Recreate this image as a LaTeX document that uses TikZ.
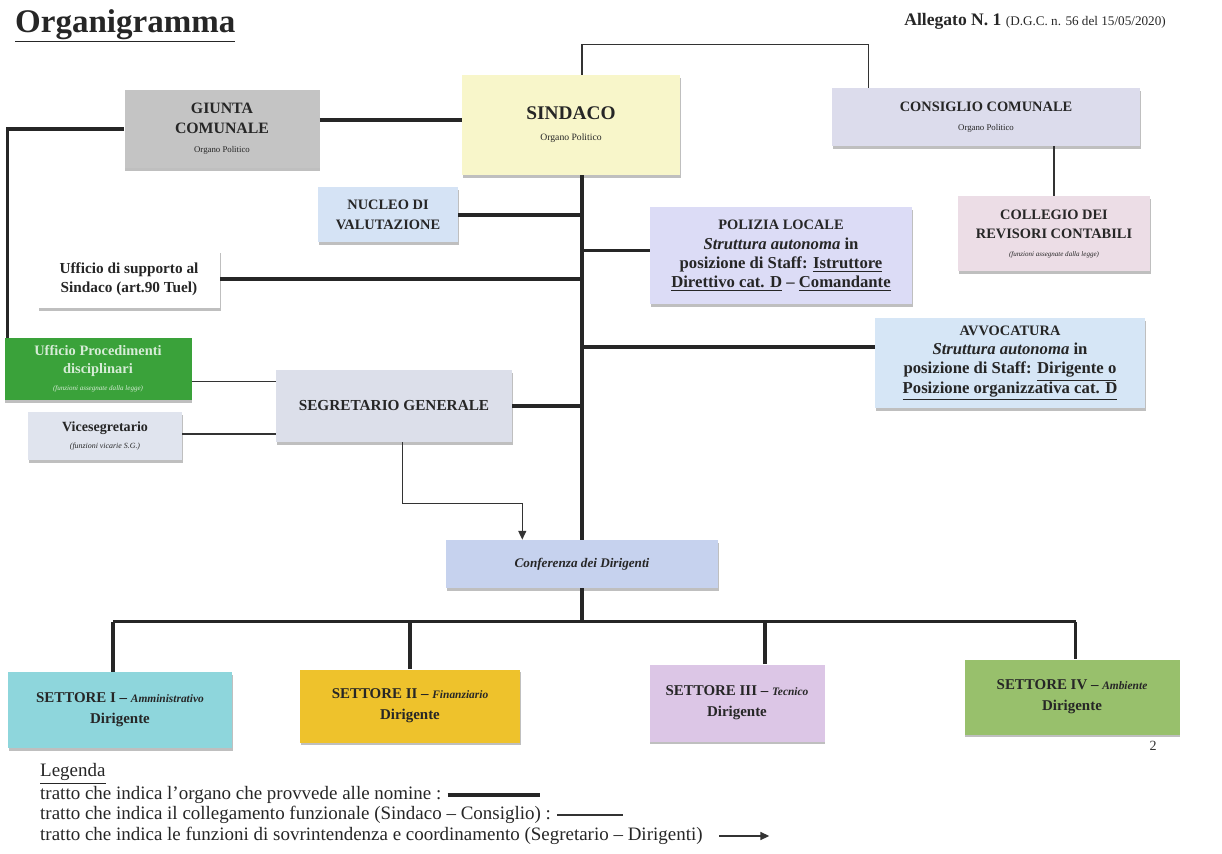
\documentclass[tikz,border=0pt]{standalone}
\usepackage{fontspec}
\setmainfont{Liberation Serif}
\usepackage{xcolor}
\usepackage{tikz}
\usetikzlibrary{shadows, arrows.meta}

\definecolor{giuntacol}{HTML}{C4C4C4}
\definecolor{sindacocol}{HTML}{F8F6CA}
\definecolor{consigliocol}{HTML}{DCDCEC}
\definecolor{collegiocol}{HTML}{ECDDE6}
\definecolor{nucleocol}{HTML}{D5E3F5}
\definecolor{poliziacol}{HTML}{DCDCF6}
\definecolor{avvocol}{HTML}{D6E6F6}
\definecolor{updcol}{HTML}{3AA23A}
\definecolor{vicecol}{HTML}{E0E4EE}
\definecolor{segrcol}{HTML}{DCDFEA}
\definecolor{confcol}{HTML}{C6D2EE}
\definecolor{setIcol}{HTML}{8ED6DC}
\definecolor{setIIcol}{HTML}{EEC22C}
\definecolor{setIIIcol}{HTML}{DCC6E6}
\definecolor{setIVcol}{HTML}{98C06C}

\newcommand{\sz}[2]{\fontsize{#1}{#2}\selectfont}

\begin{document}
\begin{tikzpicture}[x = 0.02cm, y = -0.02cm,
		organo/.style = {fill = #1, align = center, inner sep = 0pt, text = black!85,
			drop shadow = {shadow xshift = 0.5pt, shadow yshift = -1.6pt, fill = black!50}},
		wh/.style 2 args = {minimum width = #1*0.02cm, minimum height = #2*0.02cm},
		nomina/.style = {line width = 2pt, black!85},
		collega/.style = {line width = 0.8pt, black!80},
		punta/.style = {-{Triangle[length = 5pt, width = 4.5pt]}}]
			
			\useasboundingbox (0,0) rectangle (1222,854);
			
			\node [anchor = west, text = black!85, font = \bfseries\sz{18.8}{20}] (titolo) at (9,26) {\underline{Organigramma}};
			\node [anchor = east, text = black!85, font = \sz{10}{12}] (allegato) at (1172,21) {\textbf{Allegato N. 1} {\sz{7.5}{9}(D.G.C. n. 56 del 15/05/2020)}};
			
			% organi politici
			\node [organo = giuntacol, wh = {195}{78}, font = \bfseries\sz{9}{11}] (giunta) at (222,129) {GIUNTA\\COMUNALE\\{\sz{5}{6}\mdseries Organo Politico}};
			\node [organo = sindacocol, wh = {218}{100}, font = \bfseries\sz{11}{12}] (sindaco) at (571,125) {SINDACO\\{\sz{5.5}{7}\mdseries Organo Politico}};
			\node [organo = consigliocol, wh = {308}{58}, font = \bfseries\sz{8.2}{11}] (consiglio) at (986,117) {CONSIGLIO COMUNALE\\{\sz{5}{6}\mdseries Organo Politico}};
			\node [organo = collegiocol, wh = {192}{75}, font = \bfseries\sz{8.2}{10.5}] (collegio) at (1054,234) {COLLEGIO DEI\\REVISORI CONTABILI\\{\sz{4}{5}\mdseries\itshape (funzioni assegnate dalla legge)}};
			
			% staff
			\node [organo = nucleocol, wh = {140}{55}, font = \bfseries\sz{8.2}{11}] (nucleo) at (388,215) {NUCLEO DI\\VALUTAZIONE};
			\node [organo = poliziacol, wh = {262}{97}, font = \bfseries\sz{9.5}{11}] (polizia) at (781,256) {{\sz{8.2}{10}POLIZIA LOCALE}\\\textit{Struttura autonoma} in\\posizione di Staff: \underline{Istruttore}\\\underline{Direttivo cat. D} -- \underline{Comandante}};
			\node [organo = white, wh = {182}{58}, font = \bfseries\sz{8.7}{11}] (supporto) at (129,279) {Ufficio di supporto al\\Sindaco (art.90 Tuel)};
			\node [organo = avvocol, wh = {270}{90}, font = \bfseries\sz{9.5}{11}] (avvocatura) at (1010,363) {{\sz{8.2}{10}AVVOCATURA}\\\textit{Struttura autonoma} in\\posizione di Staff: \underline{Dirigente o}\\\underline{Posizione organizzativa cat. D}};
			
			% segreteria
			\node [organo = updcol, wh = {187}{62}, font = \bfseries\sz{8.2}{10}, text = white!80!updcol] (upd) at (98,369) {Ufficio Procedimenti\\disciplinari\\{\sz{4}{5}\mdseries\itshape (funzioni assegnate dalla legge)}};
			\node [organo = vicecol, wh = {154}{48}, font = \bfseries\sz{8}{10}] (vice) at (105,436) {Vicesegretario\\{\sz{4.5}{5}\mdseries\itshape (funzioni vicarie S.G.)}};
			\node [organo = segrcol, wh = {236}{72}, font = \bfseries\sz{8.7}{11}] (segretario) at (394,406) {SEGRETARIO GENERALE};
			\node [organo = confcol, wh = {272}{48}, font = \bfseries\itshape\sz{7.5}{9}] (conferenza) at (582,564) {Conferenza dei Dirigenti};
			
			% settori
			\node [organo = setIcol, wh = {224}{76}, font = \bfseries\sz{8.5}{12}] (set1) at (120,710) {SETTORE I -- {\sz{6.5}{8}\itshape Amministrativo}\\Dirigente};
			\node [organo = setIIcol, wh = {220}{73}, font = \bfseries\sz{8.5}{12}] (set2) at (410,706) {SETTORE II -- {\sz{6.5}{8}\itshape Finanziario}\\Dirigente};
			\node [organo = setIIIcol, wh = {175}{77}, font = \bfseries\sz{8.5}{12}] (set3) at (737,703) {SETTORE III -- {\sz{6.5}{8}\itshape Tecnico}\\Dirigente};
			\node [organo = setIVcol, wh = {215}{75}, font = \bfseries\sz{8.5}{12}] (set4) at (1072,697) {SETTORE IV -- {\sz{6.5}{8}\itshape Ambiente}\\Dirigente};
			
			\node [text = black!80, font = \sz{8}{9}] (pagina) at (1153,746) {2};
			
			% collegamenti
			\draw [nomina] (sindaco.south -| conferenza.north) -- (conferenza.north);
			
			\coordinate (g1) at ([yshift = 5pt]giunta.east);
			\draw [nomina] (g1) -- (g1 -| sindaco.west);
			\draw [nomina] (giunta.west) -| ([xshift = 2pt]upd.north west);
			
			\draw [collega] (sindaco.north -| conferenza.north) -- ++(0,-30) -| ([xshift = -67pt]consiglio.north);
			\draw [collega] (consiglio.south -| collegio.north) -- (collegio.north);
			
			\draw [nomina] (nucleo.east) -- (nucleo.east -| conferenza.north);
			\coordinate (pl) at ([yshift = 3pt]polizia.west);
			\draw [nomina] (pl) -- (pl -| conferenza.north);
			\draw [nomina] (supporto.east) -- (supporto.east -| conferenza.north);
			\coordinate (av) at ([yshift = 9pt]avvocatura.west);
			\draw [nomina] (av) -- (av -| conferenza.north);
			\draw [nomina] (segretario.east) -- (segretario.east -| conferenza.north);
			
			\coordinate (sg) at ([yshift = 14pt]segretario.west);
			\draw [collega] (sg) -- (sg -| upd.east);
			\coordinate (vs) at ([yshift = -16pt]segretario.west);
			\draw [collega] (vs) -- (vs -| vice.east);
			
			\draw [collega, punta] ([xshift = 5pt]segretario.south) -- ++(0,61) -| ([xshift = -34pt]conferenza.north);
			
			\coordinate (sb) at ([yshift = -19pt]conferenza.south);
			\draw [nomina] (conferenza.south) -- (sb);
			\foreach \s/\d in {set1/-4pt, set2/0pt, set3/16pt, set4/2pt} {
				\coordinate (c\s) at ([xshift = \d]\s.north);
				\draw [nomina] (c\s) -- (c\s |- sb);
			}
			\draw [nomina] (cset1 |- sb) -- (cset4 |- sb);
			
			% legenda
			\node [anchor = west, text = black!85, font = \sz{10.8}{12}] (legenda) at (34,774) {\underline{Legenda}};
			\node [anchor = west, text = black!85, font = \sz{10.8}{12}] (leg1) at (34,795) {tratto che indica l'organo che provvede alle nomine :};
			\node [anchor = west, text = black!85, font = \sz{10.8}{12}] (leg2) at (34,815) {tratto che indica il collegamento funzionale (Sindaco -- Consiglio) :};
			\node [anchor = west, text = black!85, font = \sz{10.8}{12}] (leg3) at (34,836) {tratto che indica le funzioni di sovrintendenza e coordinamento (Segretario -- Dirigenti)};
			
			\draw [nomina] (leg1.east) -- ++(92,0);
			\draw [collega] (leg2.east) -- ++(66,0);
			\draw [collega, punta] ([xshift = 6pt]leg3.east) -- ++(50,0);
			
		\end{tikzpicture}
\end{document}
